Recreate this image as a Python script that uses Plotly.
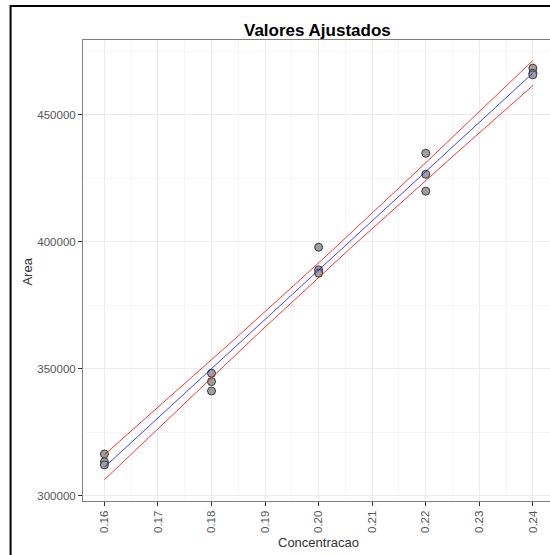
import numpy as np
import plotly.graph_objects as go

# Calibration data: concentration vs. peak area (triplicates)
concentracao = [0.16, 0.16, 0.16, 0.18, 0.18, 0.18, 0.20, 0.20, 0.20,
                0.22, 0.22, 0.22, 0.24, 0.24, 0.24]
area = [316500, 313400, 312200, 348300, 345000, 341300, 397900, 389000, 387700,
        434900, 426650, 420000, 468400, 466400, 465800]

x_ticks = [0.16, 0.17, 0.18, 0.19, 0.20, 0.21, 0.22, 0.23, 0.24]
y_ticks = [300000, 350000, 400000, 450000]

# Ordinary least squares fit with 95% confidence band for the mean
x = np.array(concentracao)
y = np.array(area)
n = len(x)
slope, intercept = np.polyfit(x, y, 1)
resid = y - (intercept + slope * x)
s = np.sqrt(np.sum(resid ** 2) / (n - 2))
sxx = np.sum((x - x.mean()) ** 2)
t_975 = 2.160369  # Student t quantile, df = 13

xs = np.linspace(x.min(), x.max(), 80)
fit = intercept + slope * xs
half = t_975 * s * np.sqrt(1.0 / n + (xs - x.mean()) ** 2 / sxx)

fig = go.Figure()
fig.add_trace(go.Scatter(
    x=concentracao, y=area, mode="markers",
    marker=dict(size=8, color="#9e9e9e", line=dict(color="#3a3a3a", width=1)),
    showlegend=False, hoverinfo="x+y"))
fig.add_trace(go.Scatter(x=xs, y=fit + half, mode="lines",
                         line=dict(color="rgba(255,0,0,0.8)", width=1), showlegend=False))
fig.add_trace(go.Scatter(x=xs, y=fit - half, mode="lines",
                         line=dict(color="rgba(255,0,0,0.8)", width=1), showlegend=False))
fig.add_trace(go.Scatter(x=xs, y=fit, mode="lines",
                         line=dict(color="rgba(0,0,255,0.75)", width=1), showlegend=False))

tick_font = dict(family="Liberation Sans, Arial, sans-serif", size=11.5, color="#555555")

fig.update_xaxes(
    range=[0.156, 0.2432], tickvals=x_ticks, tickformat=".2f", tickangle=-90,
    ticks="outside", ticklen=4, tickcolor="#333333", tickfont=tick_font,
    showgrid=True, gridcolor="#ebebeb", gridwidth=1,
    minor=dict(dtick=0.005, tick0=0.155, showgrid=True, gridcolor="#f5f5f5", gridwidth=1),
    showline=True, linecolor="#7f7f7f", linewidth=1, mirror=True, zeroline=False)
fig.update_yaxes(
    range=[298000, 479500], tickvals=y_ticks, tickformat="d",
    ticks="outside", ticklen=4, tickcolor="#333333", tickfont=tick_font,
    showgrid=True, gridcolor="#ebebeb", gridwidth=1,
    minor=dict(dtick=25000, tick0=275000, showgrid=True, gridcolor="#f5f5f5", gridwidth=1),
    showline=True, linecolor="#7f7f7f", linewidth=1, zeroline=False)

L, R, T, B = 82.5, 0, 40, 54
W, H = 550, 555
pw, ph = W - L - R, H - T - B

def px_x(p):
    return (p - L) / pw

def px_y(p):
    return (H - B - p) / ph

fig.update_layout(
    width=W, height=H, margin=dict(l=L, r=R, t=T, b=B, pad=0),
    plot_bgcolor="white", paper_bgcolor="white",
    font=dict(family="Liberation Sans, Arial, sans-serif"),
    annotations=[
        dict(text="<b>Valores Ajustados</b>", x=px_x(317.5), y=px_y(31),
             xref="paper", yref="paper", xanchor="center", yanchor="middle",
             showarrow=False, font=dict(size=17, color="black")),
        dict(text="Concentracao", x=px_x(318), y=px_y(542),
             xref="paper", yref="paper", xanchor="center", yanchor="middle",
             showarrow=False, font=dict(size=13, color="#333333")),
        dict(text="Area", x=px_x(26), y=px_y(272), textangle=-90,
             xref="paper", yref="paper", xanchor="center", yanchor="middle",
             showarrow=False, font=dict(size=13, color="#333333")),
    ],
    shapes=[
        dict(type="rect", xref="paper", yref="paper",
             x0=px_x(10), x1=px_x(600), y0=px_y(600), y1=px_y(6),
             line=dict(color="black", width=2), fillcolor="rgba(0,0,0,0)", layer="above"),
    ],
)

fig.write_html("out.html")
